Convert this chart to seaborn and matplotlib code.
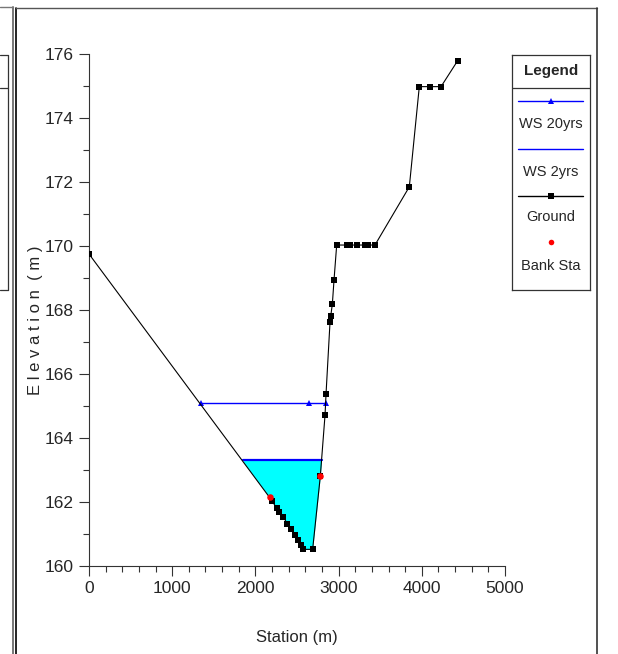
import numpy as np
import pandas as pd
import matplotlib
matplotlib.use("Agg")
import matplotlib.pyplot as plt
from matplotlib.lines import Line2D
import seaborn as sns

# ground profile (station m, elevation m)
ground_sta = [0, 2200, 2256, 2280, 2336, 2384, 2424, 2476, 2516, 2544, 2567, 2688,
              2780, 2837, 2849, 2897, 2905, 2925, 2945, 2977, 3097, 3137, 3217, 3317,
              3357, 3437, 3850, 3970, 4098, 4231, 4431]
ground_elev = [169.75, 162.04, 161.80, 161.70, 161.54, 161.31, 161.15, 160.97, 160.81,
               160.66, 160.52, 160.52, 162.80, 164.72, 165.38, 167.63, 167.80, 168.19,
               168.94, 170.03, 170.03, 170.03, 170.03, 170.03, 170.03, 170.03, 171.85,
               174.98, 174.98, 174.98, 175.79]

# water surfaces
ws20_sta = [1342, 2644, 2845]
ws20_elev = 165.08
ws2_sta = [1855, 2796]
ws2_elev = 163.30

# bank stations
bank_sta = [2175, 2776]
bank_elev = [162.16, 162.81]

x_ticks = [0, 1000, 2000, 3000, 4000, 5000]
y_ticks = [160, 162, 164, 166, 168, 170, 172, 174, 176]

sns.set_style("white")
plt.rcParams['font.family'] = ['Liberation Sans Narrow', 'Liberation Sans', 'DejaVu Sans']

fig = plt.figure(figsize=(6.18, 6.54), dpi=100)
W, H = 618, 654
ax = fig.add_axes([89 / W, 1 - 566 / H, 416 / W, 512 / H])

ground = pd.DataFrame({"sta": ground_sta, "elev": ground_elev})

# wetted area for 2yr event
fx = np.concatenate([[ws2_sta[0]],
                     [s for s in ground_sta if ws2_sta[0] < s < ws2_sta[1]],
                     [ws2_sta[1]]])
fy = np.interp(fx, ground_sta, ground_elev)
ax.fill_between(fx, fy, ws2_elev, color="#00ffff", lw=0, zorder=1)

sns.lineplot(x=ws2_sta, y=[ws2_elev] * len(ws2_sta), color="#0000ff", lw=1.6,
             ax=ax, zorder=2)
sns.lineplot(x=ws20_sta, y=[ws20_elev] * len(ws20_sta), color="#0000ff", lw=1.0,
             marker="^", markersize=4, markeredgewidth=0, ax=ax, zorder=3)
sns.lineplot(data=ground, x="sta", y="elev", sort=False, color="black", lw=0.8,
             marker="s", markersize=4.3, markeredgewidth=0, ax=ax, zorder=4)
sns.scatterplot(x=bank_sta, y=bank_elev, color="red", s=22, linewidth=0, ax=ax, zorder=5)

ax.set_xlim(0, 5000)
ax.set_ylim(160, 176)
ax.set_xticks(x_ticks)
ax.set_yticks(y_ticks)
ax.set_xticks(np.arange(0, 5001, 200), minor=True)
ax.set_yticks(np.arange(160, 177, 1), minor=True)
ax.tick_params(which="major", length=7, width=0.8, color="#333333", labelsize=12.5,
               direction="out", bottom=True, left=True, pad=4)
ax.tick_params(which="minor", length=4, width=0.8, color="#333333",
               direction="out", bottom=True, left=True)
for side in ["top", "right"]:
    ax.spines[side].set_visible(False)
for side in ["left", "bottom"]:
    ax.spines[side].set_color("#333333")
    ax.spines[side].set_linewidth(0.8)
ax.set_xlabel("Station (m)", fontsize=12)
ax.xaxis.set_label_coords(0.5, -0.125)
ax.set_ylabel("E l e v a t i o n  ( m )", fontsize=12)
ax.yaxis.set_label_coords(-0.11, 0.48)

# legend box
lax = fig.add_axes([512 / W, 1 - 290 / H, 78 / W, 235 / H])
lax.set_xlim(0, 78)
lax.set_ylim(235, 0)
lax.set_xticks([])
lax.set_yticks([])
for s in lax.spines.values():
    s.set_color("#333333")
    s.set_linewidth(0.9)
lax.axhline(33, color="#333333", lw=0.9)
lax.text(39, 16, "Legend", ha="center", va="center", fontsize=11, fontweight="bold")
lax.plot([6, 71], [46.5, 46.5], color="#0000ff", lw=1)
lax.plot([39], [46.5], marker="^", color="#0000ff", markersize=4, markeredgewidth=0)
lax.text(39, 69, "WS 20yrs", ha="center", va="center", fontsize=10.5)
lax.plot([6, 71], [94, 94], color="#0000ff", lw=1)
lax.text(39, 117, "WS 2yrs", ha="center", va="center", fontsize=10.5)
lax.plot([6, 71], [141.5, 141.5], color="black", lw=1)
lax.plot([39], [141.5], marker="s", color="black", markersize=4, markeredgewidth=0)
lax.text(39, 162, "Ground", ha="center", va="center", fontsize=10.5)
lax.plot([39], [187], marker="o", color="red", markersize=4, markeredgewidth=0)
lax.text(39, 211, "Bank Sta", ha="center", va="center", fontsize=10.5)

# surrounding panel frames
def fline(x0, y0, x1, y1, color, lw):
    fig.add_artist(Line2D([x0 / W, x1 / W], [1 - y0 / H, 1 - y1 / H],
                          color=color, lw=lw, transform=fig.transFigure))

fline(16, 8, 16, 654, "black", 1.2)
fline(16, 8, 597, 8, "#555555", 1.0)
fline(597, 8, 597, 654, "#333333", 1.2)
fline(13, 7, 13, 654, "#777777", 1.4)
fline(0, 7, 13, 7, "#777777", 1.0)
fline(0, 55, 8, 55, "#333333", 0.9)
fline(8, 55, 8, 290, "#333333", 0.9)
fline(0, 290, 8, 290, "#333333", 0.9)
fline(0, 88, 8, 88, "#333333", 0.9)

fig.savefig("out.png", dpi=100)
